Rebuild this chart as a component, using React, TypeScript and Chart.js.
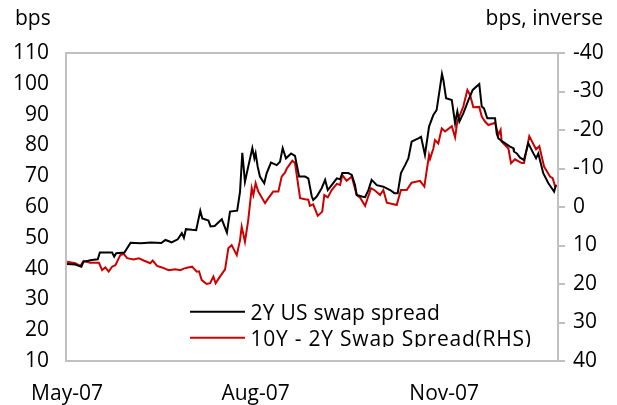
import React, { useEffect, useRef } from "react";
import { Chart, registerables } from "chart.js";

Chart.register(...registerables);

// x values are days since 1 May 2007
const usDays = [
  0, 4, 7, 8, 12, 15, 16, 22, 23, 24, 28, 31, 36, 41, 46, 48, 50, 51, 54, 56, 57, 58, 61, 63,
  65, 66, 69, 70, 72, 75.5, 78, 79.5, 83, 84.4, 85.5, 86.8, 88.4, 90.4, 91.4, 92, 93, 94.1,
  96.2, 97.4, 99.5, 102.3, 103.9, 105.2, 106.8, 109.3, 111.2, 113.2, 116.1, 117.7, 119.4,
  120.1, 121.8, 124.2, 125.9, 127.2, 129.1, 131.6, 133.2, 134.3, 137.2, 138.9, 140.5, 141.3,
  143.8, 145.4, 147, 148.6, 151.1, 154.3, 157.6, 159.7, 161.3, 162.9, 164.9, 166.5, 168.1,
  169.8, 171.4, 172.7, 174.6, 176.6, 178.7, 180.3, 182, 182.9, 183.6, 184.9, 187.7, 189.3,
  190.4, 191.4, 193.3, 195.8, 197.9, 201.1, 202.3, 203.4, 205, 208.8, 209.6, 210.4, 212.5,
  216.1, 217.7, 218, 219.4, 221, 222.9, 225, 227.5, 228.8, 229.9, 232.3, 234.8, 236.9, 237.6,
  238.5,
];
const usSpread = [
  41.5, 41.3, 40.6, 42.2, 42.8, 43.0, 45.2, 45.2, 43.9, 45.0, 45.2, 48.4, 48.2, 48.5, 48.3,
  49.3, 48.8, 48.5, 49.5, 51.5, 50.0, 52.8, 52.6, 52.5, 58.8, 56.3, 55.6, 53.7, 53.8, 56.0,
  51.7, 58.5, 58.8, 65.0, 77.6, 68.2, 73.1, 79.1, 75.8, 77.4, 73.1, 69.9, 67.7, 71.0, 74.4,
  73.6, 74.7, 79.1, 75.8, 77.4, 76.6, 69.9, 69.9, 69.3, 63.4, 62.3, 63.4, 66.1, 68.8, 65.5,
  67.1, 69.3, 69.0, 71.0, 71.0, 70.4, 67.1, 63.9, 63.4, 63.2, 65.5, 68.8, 67.1, 66.6, 65.5,
  64.5, 64.5, 71.0, 73.6, 75.8, 81.2, 81.8, 82.3, 82.8, 76.9, 86.1, 89.9, 91.5, 99.1, 103.2,
  101.2, 95.3, 94.7, 87.2, 91.0, 87.7, 90.4, 94.7, 98.0, 99.9, 92.6, 92.0, 88.8, 88.8, 83.9,
  82.3, 81.2, 79.6, 79.1, 78.0, 77.4, 76.0, 75.3, 80.7, 77.4, 75.8, 77.4, 71.0, 67.7, 65.7,
  65.0, 67.1,
];

const curveDays = [
  0, 4, 6.5, 8.1, 11.2, 15.6, 17.1, 18.7, 20.3, 22, 23.6, 26, 27.7, 29.3, 32.5, 35, 37.4,
  40.6, 41.8, 43.9, 46.3, 49.6, 52.8, 55.3, 56.9, 58.5, 61, 63.3, 64.4, 65.7, 68.1, 69.8,
  71.4, 72.5, 74.6, 77.1, 78.7, 80.3, 82.8, 84.4, 85.2, 86.8, 88.4, 90.1, 90.9, 92, 93.3,
  96.6, 98.2, 100.6, 103.1, 104.7, 106.3, 107.2, 109.9, 111.2, 113.7, 116.1, 117.7, 118.5,
  120.1, 122.3, 124.5, 125.5, 127.2, 129.1, 131.6, 133.2, 134.3, 136.4, 138.9, 141.3, 142.9,
  145.4, 148.3, 150.2, 152.7, 154.3, 156, 160.8, 162.9, 165.7, 168.1, 172.2, 174.3, 176.6,
  177.1, 178.7, 179.5, 181.1, 182.8, 184.4, 187.7, 189.3, 190.4, 193.3, 195.3, 196.6, 198.2,
  201.1, 202.3, 203.9, 205.5, 208.8, 210.4, 211.5, 212, 215.3, 216.6, 218.5, 221.8, 222.9,
  225.5, 228.8, 230.4, 232.7, 235.6, 236.9, 238, 238.9,
];
const curveSpread = [
  14.2, 14.6, 15.3, 14.0, 14.5, 14.5, 16.4, 15.7, 16.8, 15.5, 15.1, 12.5, 12.2, 13.3, 13.6,
  13.3, 13.9, 14.6, 13.9, 15.3, 15.7, 16.4, 16.2, 16.4, 16.0, 15.8, 15.5, 16.8, 16.7, 19.0,
  20.0, 19.8, 18.1, 19.8, 18.1, 16.2, 10.7, 9.9, 12.5, 8.6, 5.1, 9.0, 3.4, -4.9, -3.1, -6.2,
  -4.0, -1.0, -2.3, -4.0, -4.0, -7.9, -8.9, -10.0, -12.0, -11.4, -2.3, -2.0, -1.9, -0.3,
  -0.7, 2.3, 1.2, -3.1, -2.5, -4.4, -6.0, -5.7, -8.3, -6.8, -7.9, -3.1, -2.5, -0.3, -4.9,
  -4.3, -3.1, -4.4, -1.1, -0.5, -4.4, -4.4, -6.3, -6.8, -5.3, -13.5, -12.5, -15.2, -17.4,
  -16.5, -20.4, -19.6, -21.0, -18.1, -22.2, -26.1, -30.4, -29.1, -25.9, -26.0, -23.5, -22.2,
  -21.3, -21.9, -18.7, -20.0, -17.0, -15.2, -11.4, -12.4, -11.4, -11.4, -18.4, -15.0, -15.8,
  -10.5, -7.9, -7.5, -5.5, -5.6,
];

const xTickDays = [0, 92, 184];
const xTickLabels = ["May-07", "Aug-07", "Nov-07"];
const seriesNames = ["2Y US swap spread", "10Y - 2Y Swap Spread(RHS)"];
const seriesColors = ["#000000", "#cc0000"];
const leftTitle = "bps";
const rightTitle = "bps, inverse";

const FONT = "'Open Sans', 'Noto Sans', sans-serif";
const GRAY = "#c0c0c0";

const decorPlugin = {
  id: "decor",
  beforeDatasetsDraw(chart: any) {
    const { ctx, chartArea } = chart;
    ctx.save();
    ctx.strokeStyle = GRAY;
    ctx.lineWidth = 2;
    ctx.strokeRect(chartArea.left, chartArea.top, chartArea.right - chartArea.left, chartArea.bottom - chartArea.top);
    ctx.restore();
  },
  afterDraw(chart: any) {
    const { ctx } = chart;
    ctx.save();
    ctx.font = `21px ${FONT}`;
    ctx.fillStyle = "#000";
    ctx.textBaseline = "alphabetic";
    ctx.textAlign = "left";
    ctx.fillText(leftTitle, 7, 17);
    ctx.textAlign = "right";
    ctx.fillText(rightTitle, 595, 17);
    // legend (clipped at the bottom like the original)
    ctx.beginPath();
    ctx.rect(0, 0, chart.width, 339);
    ctx.clip();
    const rows = [303.7, 329.7];
    const textEnds = [432, 523.7];
    const textX = 242.5;
    rows.forEach((y, i) => {
      ctx.strokeStyle = seriesColors[i];
      ctx.lineWidth = 2;
      ctx.beginPath();
      ctx.moveTo(182, y);
      ctx.lineTo(237, y);
      ctx.stroke();
      ctx.textAlign = "left";
      ctx.fillStyle = "#000";
      const name = seriesNames[i];
      (ctx as any).letterSpacing = "0px";
      const w = ctx.measureText(name).width;
      const extra = Math.max(0, (textEnds[i] - textX - w) / name.length);
      (ctx as any).letterSpacing = `${extra.toFixed(2)}px`;
      ctx.fillText(name, textX, y + 8.5);
    });
    (ctx as any).letterSpacing = "0px";
    ctx.restore();
  },
};

export default function App() {
  const ref = useRef<HTMLCanvasElement | null>(null);
  useEffect(() => {
    if (!ref.current) return;
    const chart = new Chart(ref.current, {
      type: "line",
      data: {
        datasets: [
          {
            label: seriesNames[0],
            data: usDays.map((d, i) => ({ x: d, y: usSpread[i] })),
            borderColor: seriesColors[0],
            borderWidth: 2,
            pointRadius: 0,
            tension: 0,
            yAxisID: "y",
          },
          {
            label: seriesNames[1],
            data: curveDays.map((d, i) => ({ x: d, y: curveSpread[i] })),
            borderColor: seriesColors[1],
            borderWidth: 2,
            pointRadius: 0,
            tension: 0,
            yAxisID: "y2",
          },
        ],
      },
      options: {
        animation: false,
        responsive: false,
        maintainAspectRatio: false,
        layout: { padding: { top: 45, left: 0, right: 0, bottom: 0 } },
        plugins: { legend: { display: false }, tooltip: { enabled: false } },
        scales: {
          x: {
            type: "linear",
            min: -0.5,
            max: 239.5,
            grid: { display: false, drawTicks: false },
            border: { display: false },
            afterBuildTicks: (scale: any) => {
              scale.ticks = xTickDays.map((v) => ({ value: v }));
            },
            afterFit: (scale: any) => {
              scale.height = 44;
            },
            ticks: {
              autoSkip: false,
              maxRotation: 0,
              padding: 20,
              color: "#000",
              font: { family: FONT, size: 21 },
              callback: (v: any) => xTickLabels[xTickDays.indexOf(Number(v))] ?? "",
            },
          },
          y: {
            position: "left",
            min: 10,
            max: 110,
            grid: { display: false, drawTicks: false },
            border: { display: false },
            afterFit: (scale: any) => {
              scale.width = 58;
            },
            ticks: {
              stepSize: 10,
              padding: 17,
              color: "#000",
              font: { family: FONT, size: 21 },
            },
          },
          y2: {
            position: "right",
            reverse: true,
            min: -40,
            max: 40,
            grid: {
              display: true,
              drawOnChartArea: false,
              drawTicks: true,
              tickLength: 7,
              color: GRAY,
              lineWidth: 2,
            },
            border: { display: false },
            afterFit: (scale: any) => {
              scale.width = 51;
            },
            ticks: {
              stepSize: 10,
              padding: 8,
              color: "#000",
              font: { family: FONT, size: 21 },
            },
          },
        },
      },
      plugins: [decorPlugin],
    });
    return () => chart.destroy();
  }, []);
  return (
    <div style={{ width: 601, height: 397 }}>
      <canvas ref={ref} width={601} height={397} style={{ width: 601, height: 397, display: "block" }} />
    </div>
  );
}
